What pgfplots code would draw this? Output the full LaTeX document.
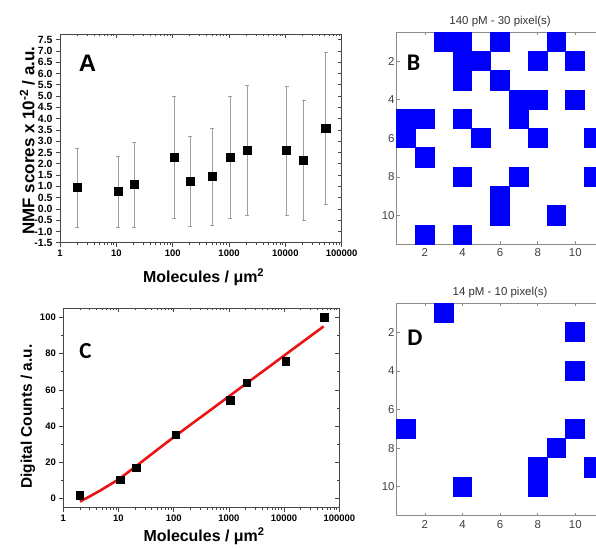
\documentclass[border=0pt]{standalone}
\usepackage{fontspec}
\setmainfont{Liberation Sans}
\newfontfamily\carlito{Carlito}
\usepackage{pgfplots}
\pgfplotsset{compat=1.18}

\definecolor{errgray}{gray}{0.62}
\definecolor{boxgray}{gray}{0.28}
\definecolor{matgray}{gray}{0.55}
\definecolor{matblue}{RGB}{0,0,250}
\definecolor{fitred}{RGB}{235,20,20}

\pgfplotsset{
  originbox/.style={scale only axis,
    xtick={1,10,100,1000,10000,100000},
    minor xtick={2,3,4,5,6,7,8,9,20,30,40,50,60,70,80,90,200,300,400,500,600,700,800,900,2000,3000,4000,5000,6000,7000,8000,9000,20000,30000,40000,50000,60000,70000,80000,90000},
    axis line style={boxgray, line width=0.8bp},
    every tick/.style={boxgray, line width=0.6bp},
    major tick length=4bp, minor tick length=2.2bp,
    /pgf/number format/assume math mode=true,
  },
  originmain/.style={originbox, tick align=outside, xtick pos=left, ytick pos=left,
    xticklabels={\textbf{1},\textbf{10},\textbf{100},\textbf{1000},\textbf{10000},\textbf{100000}},
    xticklabel style={font=\bfseries\fontsize{9.5}{10}\selectfont},
    yticklabel style={font=\bfseries\fontsize{9.5}{10}\selectfont},
    yticklabel={\textbf{\pgfmathprintnumber{\tick}}},
  },
  origintop/.style={originbox, tick align=inside, xtick pos=right, ytick pos=right,
    xticklabels={}, yticklabels={}},
  matbox/.style={scale only axis, width=206.8bp, height=212bp,
    xmin=0.5, xmax=11.5, ymin=0.5, ymax=11.5, y dir=reverse,
    xtick={2,4,6,8,10}, ytick={2,4,6,8,10},
    tick align=inside, major tick length=3bp,
    axis line style={matgray, line width=0.6bp},
    every tick/.style={matgray, line width=0.6bp},
    /pgf/number format/assume math mode=true,
    tick label style={font=\fontsize{11.5}{12}\selectfont, text=black!75},
    yticklabel style={inner sep=2bp},
    xticklabel style={yshift=-1bp},
    title style={font=\fontsize{11.5}{13}\selectfont, text=black!80,
      at={(0.5,1)}, anchor=south, inner sep=0pt, yshift=-1bp},
  },
  cell/.style={only marks, mark=square*, mark size=9.4bp,
    mark options={fill=matblue, draw=matblue, line width=0pt, yscale=1.025}},
}

\pgfplotstableread{
x      y     ep    em
2      0.96  1.73  1.76
10.7   0.77  1.55  1.57
20.5   1.09  1.85  1.89
105    2.30  2.71  2.72
207    1.24  1.98  2.01
500    1.43  2.15  2.14
1050   2.30  2.70  2.72
2100   2.59  2.87  2.88
10500  2.59  2.84  2.89
21000  2.17  2.62  2.66
52000  3.58  3.36  3.38
}\nmf

\pgfplotstableread{
x      y
2      2.0
10.7   10.3
21     17.0
110    35.3
1050   54.2
2100   63.9
10700  75.8
53000  100
}\counts

\begin{document}
\begin{tikzpicture}
\useasboundingbox (0,0) rectangle (596bp,549bp);
\clip (0,0) rectangle (596bp,549bp);

% ---- A ----
\begin{axis}[xmode=log, xmin=1, xmax=100000, originmain,
  at={(60bp,306.3bp)}, anchor=south west,
  width=281.7bp, height=208.7bp,
  ymin=-1.5, ymax=7.75, ytick={-1.5,-1.0,...,7.5},
  yticklabel style={font=\bfseries\fontsize{10.5}{11}\selectfont,
    /pgf/number format/.cd, fixed, fixed zerofill, precision=1},
  xlabel={Molecules / μm\textsuperscript{2}},
  ylabel={NMF scores x 10\textsuperscript{-2} / a.u.},
  every axis x label/.style={at={(axis description cs:0.51,-0.164)}, anchor=center,
    font=\bfseries\fontsize{16}{18}\selectfont},
  every axis y label/.style={at={(axis description cs:-0.116,0.49)}, rotate=90, anchor=center,
    font=\bfseries\fontsize{17}{18}\selectfont},
  ]
  \addplot[only marks, mark=square*, mark size=4.1bp, mark options={fill=black, draw=black},
    error bars/.cd, y dir=both, y explicit,
    error bar style={errgray, line width=0.6bp},
    error mark options={rotate=90, errgray, mark size=2bp, line width=0.6bp}]
    table[x=x, y=y, y error plus=ep, y error minus=em] {\nmf};
\end{axis}
\begin{axis}[xmode=log, xmin=1, xmax=100000, origintop,
  at={(60bp,306.3bp)}, anchor=south west,
  width=281.7bp, height=208.7bp,
  ymin=-1.5, ymax=7.75, ytick={-1.5,-1.0,...,7.5}]
\end{axis}
\node[font=\bfseries\fontsize{24}{26}\selectfont] at (87.5bp,485.5bp) {A};

% ---- C ----
\begin{axis}[xmode=log, xmin=1, xmax=100000, originmain,
  at={(63.3bp,41.3bp)}, anchor=south west,
  width=276bp, height=199.4bp,
  ymin=-5, ymax=105, ytick={0,20,...,100}, minor ytick={10,30,50,70,90},
  xlabel={Molecules / μm\textsuperscript{2}},
  ylabel={Digital Counts / a.u.},
  every axis x label/.style={at={(axis description cs:0.51,-0.142)}, anchor=center,
    font=\bfseries\fontsize{16}{18}\selectfont},
  every axis y label/.style={at={(axis description cs:-0.128,0.456)}, rotate=90, anchor=center,
    font=\bfseries\fontsize{15.5}{18}\selectfont},
  ]
  \addplot[fitred, line width=2.6bp, line join=round] coordinates {
    (2,-1.6) (3,1.2) (5,5.0) (10,10.6) (20,17.5) (50,26.9) (100,33.9) (200,40.7)
    (500,49.6) (1000,56.4) (2000,63.2) (5000,72.1) (10000,78.9) (20000,85.7) (52000,95.0)};
  \addplot[only marks, mark=square*, mark size=3.7bp, mark options={fill=black, draw=black}]
    table[x=x, y=y] {\counts};
\end{axis}
\begin{axis}[xmode=log, xmin=1, xmax=100000, origintop,
  at={(63.3bp,41.3bp)}, anchor=south west,
  width=276bp, height=199.4bp,
  ymin=-5, ymax=105, ytick={0,20,...,100}, minor ytick={10,30,50,70,90}]
\end{axis}
\node[font=\carlito\bfseries\fontsize{23}{25}\selectfont] at (85.5bp,198bp) {C};

% ---- B ----
\begin{axis}[matbox, at={(396.7bp,304.7bp)}, anchor=south west,
  title={140 pM - 30 pixel(s)}]
  \addplot[cell] coordinates {
    (3,1) (4,1) (6,1) (9,1)
    (4,2) (5,2) (8,2) (10,2)
    (4,3) (6,3)
    (7,4) (8,4) (10,4)
    (1,5) (2,5) (4,5) (7,5)
    (1,6) (5,6) (8,6) (11,6)
    (2,7)
    (4,8) (7,8) (11,8)
    (6,9)
    (6,10) (9,10)
    (2,11) (4,11)};
\end{axis}
\node[font=\carlito\bfseries\fontsize{24}{26}\selectfont] at (413.5bp,486.5bp) {B};

% ---- D ----
\begin{axis}[matbox, at={(396.7bp,33.3bp)}, anchor=south west, height=212.4bp,
  title={14 pM - 10 pixel(s)}]
  \addplot[cell] coordinates {
    (3,1) (10,2) (10,4) (1,7) (10,7) (9,8) (8,9) (11,9) (4,10) (8,10)};
\end{axis}
\node[font=\carlito\bfseries\fontsize{24}{26}\selectfont] at (415bp,211bp) {D};
\end{tikzpicture}
\end{document}
